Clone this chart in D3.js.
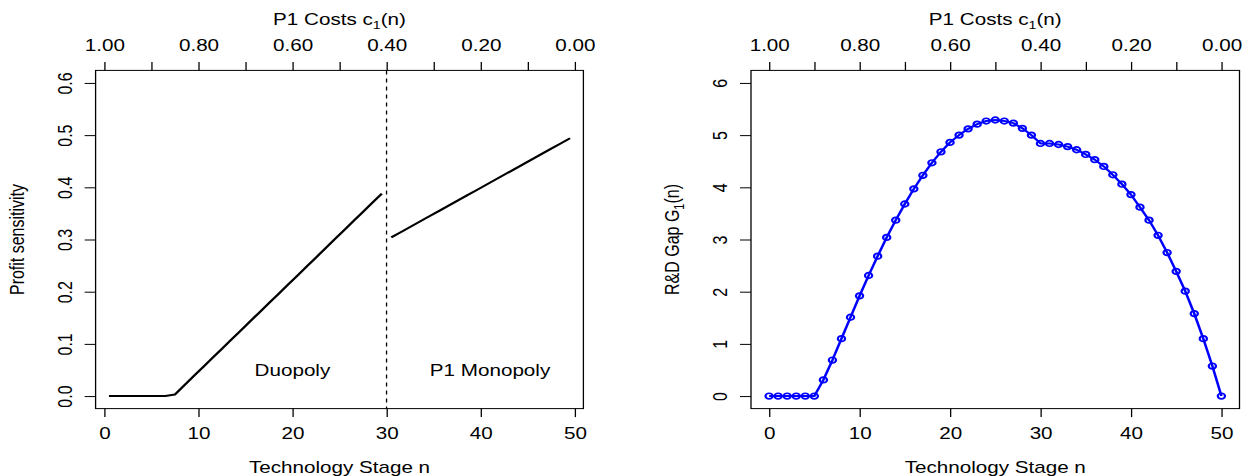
<!DOCTYPE html>
<html>
<head>
<meta charset="utf-8">
<script src="https://cdn.jsdelivr.net/npm/d3@7"></script>
<style>
  body { margin: 0; background: #fff; }
  svg { display: block; }
</style>
</head>
<body>
<svg id="fig" width="1251" height="476"></svg>
<script>

// ---- data ----
var duoStage   = [0.5,1.5,2.5,3.5,4.5,5.5,6.5,7.5,8.5,9.5,10.5,11.5,12.5,13.5,14.5,
                  15.5,16.5,17.5,18.5,19.5,20.5,21.5,22.5,23.5,24.5,25.5,26.5,27.5,28.5,29.5];
var duoProfit  = [0,0,0,0,0,0,0,0.003,0.0205,0.038,0.0555,0.073,0.0905,0.108,0.1255,
                  0.143,0.1605,0.178,0.1955,0.213,0.2305,0.248,0.2655,0.283,0.3005,0.318,0.3355,0.353,0.3705,0.388];
var monoStage  = [30.5,31.5,32.5,33.5,34.5,35.5,36.5,37.5,38.5,39.5,
                  40.5,41.5,42.5,43.5,44.5,45.5,46.5,47.5,48.5,49.5];
var monoProfit = [0.304,0.314,0.324,0.334,0.344,0.354,0.364,0.374,0.384,0.394,
                  0.404,0.414,0.424,0.434,0.444,0.454,0.464,0.474,0.484,0.494];

var gapStage = [0,1,2,3,4,5,6,7,8,9,10,11,12,13,14,15,16,17,18,19,20,21,22,23,24,25,
                26,27,28,29,30,31,32,33,34,35,36,37,38,39,40,41,42,43,44,45,46,47,48,49,50];
var gapValue = [0,0,0,0,0,0,0.31,0.69,1.10,1.51,1.92,2.31,2.68,3.04,3.37,3.68,3.97,4.23,4.47,4.68,
                4.86,5.00,5.12,5.21,5.27,5.29,5.27,5.23,5.13,5.00,4.84,4.84,4.82,4.78,4.72,4.63,
                4.53,4.40,4.24,4.06,3.86,3.62,3.37,3.08,2.75,2.39,2.01,1.58,1.10,0.575,0];

var stageTicks  = [0,10,20,30,40,50];
var costTicks   = [1.0,0.9,0.8,0.7,0.6,0.5,0.4,0.3,0.2,0.1,0.0];
var profitTicks = [0,0.1,0.2,0.3,0.4,0.5,0.6];
var gapTicks    = [0,1,2,3,4,5,6];
var regionLabels = [ {text:"Duopoly", stage:20, y:0.05}, {text:"P1 Monopoly", stage:41, y:0.05} ];
var monopolyStart = 30;

// ---- layout ----
var FONT = "'Liberation Sans', Arial, Helvetica, sans-serif";
var SX = 1.29;           // the picture is stretched sideways
var TOP = 70.4, BOT = 408.6, TICK = 8.5, PAD = 11;

var svg = d3.select("#fig");
var root = svg.append("g").attr("transform", "scale(" + SX + ",1)");

function panel(opt){
    var x = d3.scaleLinear().domain(opt.xdom).range([opt.left / SX, opt.right / SX]);
    var y = d3.scaleLinear().domain(opt.ydom).range([BOT, TOP]);
    var c = d3.scaleLinear().domain([1, 0]).range([x(0), x(50)]);
    var g = root.append("g");

    // bottom axis
    g.append("g").attr("transform", "translate(0," + BOT + ")")
        .call(d3.axisBottom(x).tickValues(stageTicks).tickSize(TICK).tickPadding(PAD).tickFormat(d3.format("d")))
        .call(function(a){ a.select(".domain").remove(); })
        .attr("font-size", 16).attr("font-family", FONT);

    // top axis (costs)
    g.append("g").attr("transform", "translate(0," + TOP + ")")
        .call(d3.axisTop(c).tickValues(costTicks).tickSize(TICK).tickPadding(PAD)
              .tickFormat(function(d){ return Math.round(d*10) % 2 == 0 ? d.toFixed(2) : ""; }))
        .call(function(a){ a.select(".domain").remove(); })
        .attr("font-size", 16).attr("font-family", FONT);

    // left axis, rotated labels
    g.append("g").attr("transform", "translate(" + (opt.left / SX) + ",0)")
        .call(d3.axisLeft(y).tickValues(opt.yticks).tickSize(TICK).tickFormat(opt.yfmt))
        .call(function(a){
            a.select(".domain").remove();
            a.selectAll("text").attr("x", null).attr("dy", null)
             .attr("text-anchor", "middle")
             .attr("transform", "translate(" + (-(TICK + 10)) + ",0) rotate(-90)");
        })
        .attr("font-size", 16).attr("font-family", FONT);

    // box
    g.append("rect")
        .attr("x", opt.left / SX).attr("y", TOP)
        .attr("width", (opt.right - opt.left) / SX).attr("height", BOT - TOP)
        .attr("fill", "none").attr("stroke", "#000").attr("stroke-width", 1);

    // titles
    var cx = (opt.left + opt.right) / 2 / SX;
    g.append("text").attr("x", cx).attr("y", 473).attr("text-anchor", "middle")
        .attr("font-size", 16).attr("font-family", FONT).text("Technology Stage n");

    var tt = g.append("text").attr("x", cx).attr("y", 25).attr("text-anchor", "middle")
        .attr("font-size", 16).attr("font-family", FONT);
    tt.append("tspan").text("P1 Costs c");
    tt.append("tspan").attr("font-size", 11).attr("dy", 4).text("1");
    tt.append("tspan").attr("dy", -4).text("(n)");

    var yt = g.append("text")
        .attr("transform", "translate(" + ((opt.left - 72) / SX) + "," + ((TOP + BOT) / 2) + ") rotate(-90)")
        .attr("text-anchor", "middle").attr("font-size", 16).attr("font-family", FONT);
    opt.ytitle(yt);

    return {g: g, x: x, y: y};
}

// ---- left: profit sensitivity ----
var L = panel({
    left: 95.6, right: 583.4, xdom: [-0.92, 50.92], ydom: [-0.024, 0.624],
    yticks: profitTicks, yfmt: d3.format(".1f"),
    ytitle: function(t){ t.text("Profit sensitivity"); }
});

var lineL = d3.line().x(function(d){ return L.x(d[0]); }).y(function(d){ return L.y(d[1]); });
[ d3.zip(duoStage, duoProfit), d3.zip(monoStage, monoProfit) ].forEach(function(seg){
    L.g.append("path").attr("d", lineL(seg))
        .attr("fill", "none").attr("stroke", "#000").attr("stroke-width", 2)
        .attr("stroke-linejoin", "round");
});

L.g.append("line")
    .attr("x1", L.x(monopolyStart)).attr("x2", L.x(monopolyStart))
    .attr("y1", TOP).attr("y2", BOT)
    .attr("stroke", "#000").attr("stroke-width", 1).attr("stroke-dasharray", "4,4");

L.g.selectAll("text.region").data(regionLabels).enter().append("text")
    .attr("class", "region")
    .attr("x", function(d){ return L.x(d.stage); })
    .attr("y", function(d){ return L.y(d.y); })
    .attr("dy", "0.36em").attr("text-anchor", "middle")
    .attr("font-size", 16).attr("font-family", FONT).attr("fill", "#000")
    .text(function(d){ return d.text; });

// ---- right: R&D gap ----
var R = panel({
    left: 751, right: 1239.5, xdom: [-2, 52], ydom: [-0.24, 6.24],
    yticks: gapTicks, yfmt: d3.format("d"),
    ytitle: function(t){
        t.append("tspan").text("R&D Gap G");
        t.append("tspan").attr("font-size", 11).attr("dy", 4).text("1");
        t.append("tspan").attr("dy", -4).text("(n)");
    }
});

var gapData = d3.zip(gapStage, gapValue);
var lineR = d3.line().x(function(d){ return R.x(d[0]); }).y(function(d){ return R.y(d[1]); });
R.g.append("path").attr("d", lineR(gapData))
    .attr("fill", "none").attr("stroke", "#0000ff").attr("stroke-width", 2)
    .attr("stroke-linejoin", "round");

R.g.selectAll("circle.pt").data(gapData).enter().append("circle")
    .attr("class", "pt")
    .attr("cx", function(d){ return R.x(d[0]); })
    .attr("cy", function(d){ return R.y(d[1]); })
    .attr("r", 2.8)
    .attr("fill", "none").attr("stroke", "#0000ff").attr("stroke-width", 1.7);

</script>
</body>
</html>
